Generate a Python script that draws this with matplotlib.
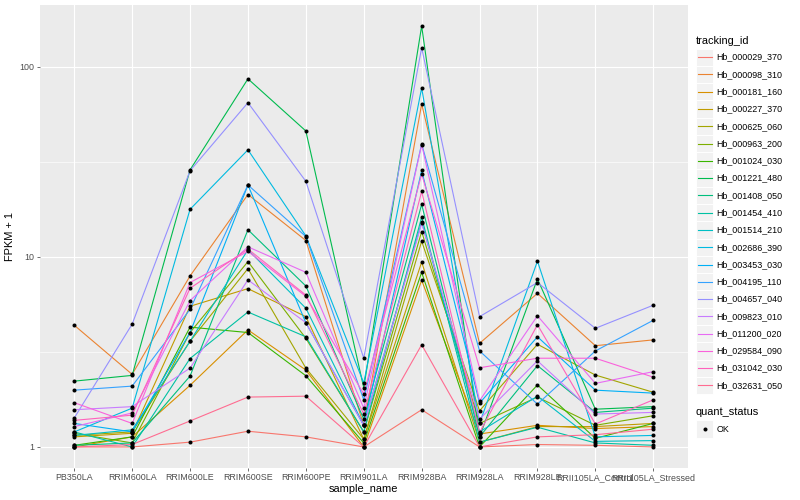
import numpy as np
import matplotlib
matplotlib.use("Agg")
import matplotlib.pyplot as plt
from matplotlib.patches import Rectangle
from matplotlib.lines import Line2D

samples = ["PB350LA", "RRIM600LA", "RRIM600LE", "RRIM600SE", "RRIM600PE",
           "RRIM901LA", "RRIM928BA", "RRIM928LA", "RRIM928LE",
           "RRII105LA_Control", "RRII105LA_Stressed"]

tracking_ids = ["Hb_000029_370", "Hb_000098_310", "Hb_000181_160", "Hb_000227_370",
                "Hb_000625_060", "Hb_000963_200", "Hb_001024_030", "Hb_001221_480",
                "Hb_001408_050", "Hb_001454_410", "Hb_001514_210", "Hb_002686_390",
                "Hb_003453_030", "Hb_004195_110", "Hb_004657_040", "Hb_009823_010",
                "Hb_011200_020", "Hb_029584_090", "Hb_031042_030", "Hb_032631_050"]

colors = ["#F8766D", "#EA8331", "#D89000", "#C09B00", "#A3A500", "#7CAE00",
          "#39B600", "#00BB4E", "#00BF7D", "#00C1A3", "#00BFC4", "#00BAE0",
          "#00B0F6", "#35A2FF", "#9590FF", "#C77CFF", "#E76BF3", "#FA62DB",
          "#FF62BC", "#FF6C91"]

# FPKM + 1 values per gene, across samples
Hb_000029_370 = [1.00, 1.00, 1.06, 1.21, 1.13, 1.00, 1.57, 1.00, 1.03, 1.02, 1.00]
Hb_000098_310 = [4.37, 2.41, 7.94, 21.3, 12.2, 1.30, 63.7, 3.51, 6.43, 3.41, 3.66]
Hb_000181_160 = [1.00, 1.13, 2.11, 4.13, 2.54, 1.00, 7.54, 1.17, 1.30, 1.25, 1.28]
Hb_000227_370 = [1.13, 1.18, 5.50, 6.81, 4.85, 1.10, 9.40, 1.06, 1.28, 1.28, 1.33]
Hb_000625_060 = [1.15, 1.20, 3.60, 8.68, 2.60, 1.10, 12.1, 1.55, 3.47, 2.39, 1.94]
Hb_000963_200 = [1.18, 1.05, 4.00, 9.45, 3.73, 1.20, 13.6, 1.33, 1.83, 1.30, 1.46]
Hb_001024_030 = [1.02, 1.13, 4.27, 4.00, 2.37, 1.05, 8.30, 1.00, 2.12, 1.11, 1.33]
Hb_001221_480 = [2.22, 2.38, 28.7, 86.5, 46.0, 2.05, 164., 1.13, 7.66, 1.58, 1.63]
Hb_001408_050 = [1.02, 1.05, 2.36, 13.9, 7.03, 1.40, 18.9, 1.13, 2.68, 1.52, 1.60]
Hb_001454_410 = [1.20, 1.00, 2.92, 5.13, 3.80, 1.20, 16.2, 1.06, 1.27, 1.05, 1.02]
Hb_001514_210 = [1.15, 1.23, 3.60, 10.9, 5.37, 1.30, 15.3, 1.20, 1.85, 1.07, 1.08]
Hb_002686_390 = [1.20, 1.60, 17.8, 36.6, 12.9, 2.17, 77.5, 1.33, 9.50, 1.13, 1.15]
Hb_003453_030 = [1.33, 1.20, 4.00, 23.9, 4.50, 1.30, 28.5, 1.70, 3.80, 1.99, 1.92]
Hb_004195_110 = [1.99, 2.09, 5.30, 23.9, 12.8, 1.77, 39.3, 3.20, 1.68, 3.20, 4.64]
Hb_004657_040 = [1.42, 4.43, 28.4, 64.8, 25.0, 2.93, 126., 4.85, 7.33, 4.21, 5.57]
Hb_009823_010 = [1.57, 1.63, 2.60, 7.57, 4.51, 1.30, 15.0, 1.40, 2.84, 1.49, 1.52]
Hb_011200_020 = [1.28, 1.51, 5.89, 11.3, 8.30, 1.60, 39.0, 1.75, 4.90, 2.16, 2.49]
Hb_029584_090 = [1.71, 1.33, 7.33, 10.7, 6.20, 1.90, 27.3, 2.61, 2.93, 2.93, 2.33]
Hb_031042_030 = [1.38, 1.47, 6.84, 11.0, 6.30, 1.49, 22.1, 1.19, 4.40, 1.32, 1.77]
Hb_032631_050 = [1.00, 1.03, 1.37, 1.83, 1.85, 1.00, 3.45, 1.00, 1.13, 1.16, 1.24]

series = [Hb_000029_370, Hb_000098_310, Hb_000181_160, Hb_000227_370, Hb_000625_060,
          Hb_000963_200, Hb_001024_030, Hb_001221_480, Hb_001408_050, Hb_001454_410,
          Hb_001514_210, Hb_002686_390, Hb_003453_030, Hb_004195_110, Hb_004657_040,
          Hb_009823_010, Hb_011200_020, Hb_029584_090, Hb_031042_030, Hb_032631_050]

y_ticks = [1, 10, 100]
y_tick_labels = ["1", "10", "100"]

plt.rcParams['font.family'] = ['Liberation Sans', 'DejaVu Sans']

W, H = 800, 500
fig = plt.figure(figsize=(8, 5), dpi=100)
fig.patch.set_facecolor("white")
left, right, top, bottom = 39.5, 688, 5, 468
ax = fig.add_axes([left / W, 1 - bottom / H, (right - left) / W, (bottom - top) / H])
ax.set_facecolor("#EBEBEB")

x = np.arange(len(samples))
ax.set_yscale("log")
allv = np.concatenate([np.asarray(s) for s in series])
lo, hi = np.log10(allv.min()), np.log10(allv.max())
pad = 0.05 * (hi - lo)
ax.set_ylim(10 ** (lo - pad), 10 ** (hi + pad))
ax.set_xlim(-0.6, len(samples) - 1 + 0.6)

# grid
minor = [10 ** 0.5, 10 ** 1.5, 10 ** 2.5]
for m in minor:
    ax.axhline(m, color="white", lw=0.45, zorder=0.5)
for t in y_ticks:
    ax.axhline(t, color="white", lw=0.85, zorder=0.6)
for xi in x:
    ax.axvline(xi, color="white", lw=0.85, zorder=0.6)

for vals, c in zip(series, colors):
    ax.plot(x, vals, color=c, lw=0.8, zorder=2, solid_capstyle="butt")
for vals in series:
    ax.plot(x, vals, linestyle="none", marker="o", ms=2.9, color="black",
            markeredgewidth=0, zorder=3)

ax.set_yticks(y_ticks)
ax.set_yticklabels(y_tick_labels)
ax.yaxis.set_minor_locator(matplotlib.ticker.NullLocator())
ax.set_xticks(x)
ax.set_xticklabels(samples)
ax.tick_params(axis="both", which="major", length=2.0, width=0.5, color="#333333",
               labelsize=6.4, labelcolor="#4D4D4D", pad=1.5)
for s in ax.spines.values():
    s.set_visible(False)
ax.set_xlabel("sample_name", fontsize=7.9, labelpad=1.5)
ax.set_ylabel("FPKM + 1", fontsize=7.9, labelpad=3)

# legend (ggplot-style, drawn in figure pixel coordinates)
def fx(px):
    return px / W

def fy(py):
    return 1 - py / H

fig.text(fx(696), fy(40.5), "tracking_id", fontsize=7.9, va="center", ha="left")
key_w, key_h = 17.28, 17.28
y0 = 48.5
for i, (name, c) in enumerate(zip(tracking_ids, colors)):
    ky = y0 + i * key_h
    fig.add_artist(Rectangle((fx(696), fy(ky + key_h)), key_w / W, key_h / H,
                             transform=fig.transFigure, facecolor="#F2F2F2",
                             edgecolor="white", lw=0.7, zorder=5))
    cy = ky + key_h / 2
    fig.add_artist(Line2D([fx(698), fx(712)], [fy(cy), fy(cy)],
                          transform=fig.transFigure, color=c, lw=0.8, zorder=6))
    fig.text(fx(716.5), fy(cy), name, fontsize=6.4, va="center", ha="left")

fig.text(fx(696), fy(412), "quant_status", fontsize=7.9, va="center", ha="left")
ky = 420.5
fig.add_artist(Rectangle((fx(696), fy(ky + key_h)), key_w / W, key_h / H,
                         transform=fig.transFigure, facecolor="#F2F2F2",
                         edgecolor="white", lw=0.7, zorder=5))
fig.add_artist(Line2D([fx(696 + key_w / 2)], [fy(ky + key_h / 2)],
                      transform=fig.transFigure, marker="o", ms=2.9,
                      color="black", markeredgewidth=0, linestyle="none", zorder=6))
fig.text(fx(716.5), fy(ky + key_h / 2), "OK", fontsize=6.4, va="center", ha="left")

fig.savefig("out.png", dpi=100)
